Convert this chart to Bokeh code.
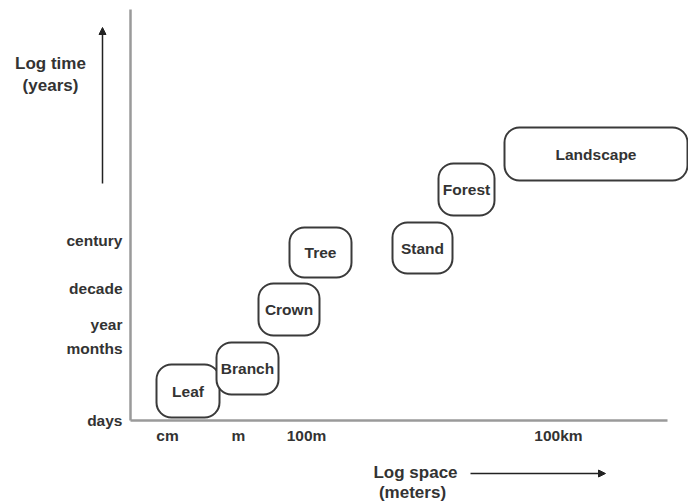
from bokeh.plotting import figure
from bokeh.models import Range1d, FixedTicker, Arrow, NormalHead, ColumnDataSource
from bokeh.core.properties import value
from bokeh.embed import file_html
from bokeh.resources import INLINE

# ---- data (positions on the schematic log-space / log-time axes) ----
labels = ["Leaf", "Branch", "Crown", "Tree", "Stand", "Forest", "Landscape"]
space_lo = [26, 86, 128, 159, 262, 308, 374]
space_hi = [89, 148, 189, 221, 322, 364, 557]
time_lo = [3, 26, 85, 143, 147, 205, 240]
time_hi = [56, 78, 137, 193, 198, 257, 293]

x_tick_pos = [37, 108, 176, 428]
x_tick_labels = ["cm", "m", "100m", "100km"]
y_tick_pos = [0, 72, 96, 132, 180]
y_tick_labels = ["days", "months", "year", "decade", "century"]

axis_titles = ["Log time", "(years)", "Log space", "(meters)"]

FONT = "Liberation Sans"
INK = "#333333"

p = figure(width=688, height=504, output_backend="svg", toolbar_location=None,
           x_range=Range1d(-130, 558), y_range=Range1d(-84, 420),
           min_border_left=0, min_border_right=0, min_border_top=0,
           min_border_bottom=0)
p.outline_line_color = None
p.xgrid.visible = False
p.ygrid.visible = False
p.background_fill_color = "white"
p.border_fill_color = "white"

for ax in (p.xaxis[0], p.yaxis[0]):
    ax.fixed_location = 0
    ax.axis_line_color = "#9a9a9a"
    ax.axis_line_width = 2.5
    ax.major_tick_line_color = None
    ax.minor_tick_line_color = None
    ax.major_tick_out = 0
    ax.major_tick_in = 0
    ax.major_label_text_font = FONT
    ax.major_label_text_font_style = "bold"
    ax.major_label_text_font_size = "15.5px"
    ax.major_label_text_color = INK

p.xaxis[0].ticker = FixedTicker(ticks=x_tick_pos)
p.xaxis[0].major_label_overrides = {t: s for t, s in zip(x_tick_pos, x_tick_labels)}
p.xaxis[0].bounds = (0, 537)
p.xaxis[0].major_label_standoff = 6
p.yaxis[0].ticker = FixedTicker(ticks=y_tick_pos)
p.yaxis[0].major_label_overrides = {t: s for t, s in zip(y_tick_pos, y_tick_labels)}
p.yaxis[0].bounds = (0, 411)
p.yaxis[0].major_label_standoff = 8

src = ColumnDataSource(dict(
    left=space_lo, right=space_hi, bottom=time_lo, top=time_hi, label=labels,
    cx=[(a + b) / 2 for a, b in zip(space_lo, space_hi)],
    cy=[(a + b) / 2 for a, b in zip(time_lo, time_hi)],
))
p.quad(left="left", right="right", bottom="bottom", top="top", source=src,
       fill_color="white", line_color="#3a3a3a", line_width=2, border_radius=15)
p.text(x="cx", y="cy", text="label", source=src, text_align="center",
       text_baseline="middle", text_font=value(FONT), text_font_style="bold",
       text_font_size="15.5px", text_color=INK)

# axis titles
p.text(x=[-80, -80, 285, 282], y=[357, 335, -52, -72], text=axis_titles,
       text_align="center", text_baseline="middle", text_font=value(FONT),
       text_font_style="bold", text_font_size="17px", text_color=INK)

# direction arrows
p.add_layout(Arrow(x_start=-28, y_start=237, x_end=-28, y_end=393,
                   line_color="#222222", line_width=1.5,
                   end=NormalHead(size=7, fill_color="#222222", line_color="#222222")))
p.add_layout(Arrow(x_start=340, y_start=-53, x_end=475, y_end=-53,
                   line_color="#222222", line_width=1.5,
                   end=NormalHead(size=7, fill_color="#222222", line_color="#222222")))

open("out.html", "w").write(file_html(p, INLINE))
